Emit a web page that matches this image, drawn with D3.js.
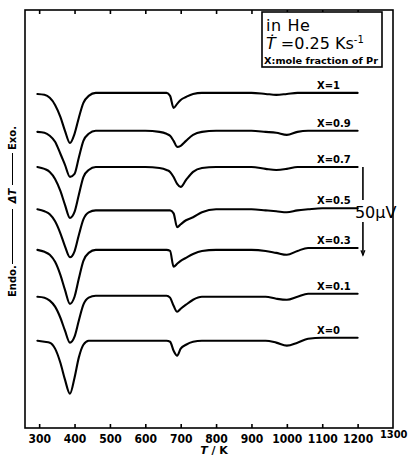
<!DOCTYPE html>
<html>
<head>
<meta charset="utf-8">
<script src="https://cdn.jsdelivr.net/npm/d3@7"></script>
<style>
  html, body { margin: 0; padding: 0; background: #fff; }
  svg { display: block; }
</style>
</head>
<body>
<svg id="chart" width="408" height="460"></svg>
<script>
// ---------------- DATA ----------------
const temps = [295,315,330,345,360,373,387,400,412,425,440,460,500,600,640,660,670,680,690,700,715,735,760,800,900,940,970,1000,1030,1060,1100,1150,1200];

const seriesNames = ["X=1","X=0.9","X=0.7","X=0.5","X=0.3","X=0.1","X=0"];
// vertical offset of each trace (µV)
const baselines = [190, 168.5, 148, 124, 101, 75, 49.5];

// deviation ΔT (µV) of each trace from its own baseline, negative = endothermic
const dT_x1  = [-0.6,-1.1,-2.8,-6.8,-13.6,-21.5,-28.4,-23.2,-14.2,-5.7,-1.7,0,0,0,0,0,-1.7,-8.5,-6.2,-4.0,-2.3,-0.6,0,0,0,-0.6,-1.1,-0.6,0,0,0,0,0];
const dT_x09 = [-0.6,-1.1,-2.8,-6.2,-13.0,-19.3,-26.1,-24.4,-15.3,-5.7,-1.7,0,0,0,-0.6,-1.7,-2.8,-5.7,-9.1,-8.5,-5.7,-2.3,-0.6,0,0,-0.6,-1.1,-2.3,-0.6,0,0,0,0];
const dT_x07 = [0,-1.1,-2.8,-6.8,-13.6,-21.5,-28.9,-25.5,-15.9,-5.7,-1.7,0,0,0,-0.6,-1.7,-2.8,-5.7,-9.6,-11.3,-7.4,-2.8,-0.6,0,0,-1.1,-1.7,-1.1,0,0,0,0,0];
const dT_x05 = [0,-1.1,-2.8,-6.8,-13.6,-21.0,-27.2,-23.8,-14.7,-5.7,-1.7,-0.6,-0.6,-0.6,-0.6,-0.6,-0.6,-2.3,-10.2,-8.5,-6.2,-4.5,-1.7,0,0,-0.6,-1.1,-1.7,-0.6,0,0.6,0.6,0.6];
const dT_x03 = [0,-1.1,-2.8,-6.8,-14.2,-22.7,-30.6,-26.6,-16.4,-6.2,-1.7,0,0,0,0,0,-0.6,-9.6,-7.9,-6.2,-4.5,-2.3,-0.6,0,0,-0.6,-1.7,-2.8,-0.6,1.1,1.1,1.1,1.1];
const dT_x01 = [-0.6,-1.1,-2.8,-6.2,-12.5,-19.8,-26.6,-23.2,-14.2,-5.1,-1.1,0,0,0,0,0,-1.1,-5.7,-9.1,-7.4,-5.1,-2.3,-0.6,-0.6,-0.6,-0.6,-1.7,-2.3,-0.6,1.1,1.1,1.1,1.1];
const dT_x0  = [0,-0.6,-1.1,-4.5,-12.5,-22.1,-30.1,-21.0,-9.6,-2.3,0,0,0,0,0,0,-0.6,-5.7,-8.5,-4.5,-2.3,-0.6,0,0,0,0,-1.1,-2.8,-1.1,1.1,1.7,1.7,1.7];
const seriesValues = [dT_x1, dT_x09, dT_x07, dT_x05, dT_x03, dT_x01, dT_x0];

const xTicks = [300,400,500,600,700,800,900,1000,1100,1200,1300];
const xDomain = [260, 1300];
const yDomain = [0, 237];       // µV
const scaleBarValue = 50;       // µV
const scaleBarTop = 148;        // µV
const scaleBarT = 1215;         // K
const labelT = 1085;            // K

// ---------------- DRAW ----------------
const svg = d3.select("#chart");
const mL = 25, mR = 393, mT = 10, mB = 428;

const x = d3.scaleLinear().domain(xDomain).range([mL, mR]);
const y = d3.scaleLinear().domain(yDomain).range([mB, mT]);

const narrow = "'Liberation Sans Narrow','DejaVu Sans Condensed',sans-serif";
const sans = "'DejaVu Sans',sans-serif";

// frame
svg.append("rect")
  .attr("x", mL).attr("y", mT)
  .attr("width", mR - mL).attr("height", mB - mT)
  .attr("fill", "none").attr("stroke", "#000").attr("stroke-width", 1.6);

// bottom axis (ticks inward)
const gB = svg.append("g").attr("transform", `translate(0,${mB})`)
  .call(d3.axisBottom(x).tickValues(xTicks).tickSizeInner(-4).tickSizeOuter(0).tickPadding(6).tickFormat(d3.format("d")));
gB.select(".domain").remove();
gB.selectAll("line").attr("stroke", "#000").attr("stroke-width", 1.6);
gB.selectAll("text")
  .attr("font-family", narrow).attr("font-weight", "bold").attr("font-size", 12).attr("fill", "#000");
gB.selectAll(".tick").filter(d => d === 1300).select("line").remove();
gB.selectAll(".tick").filter(d => d === 1300).select("text")
  .attr("text-anchor", "end").attr("x", 14).attr("y", 2).attr("font-size", 11);

// top axis (ticks inward, no labels)
const gT = svg.append("g").attr("transform", `translate(0,${mT})`)
  .call(d3.axisTop(x).tickValues(xTicks.filter(t => t < 1300)).tickSizeInner(-4).tickSizeOuter(0).tickFormat(""));
gT.select(".domain").remove();
gT.selectAll("line").attr("stroke", "#000").attr("stroke-width", 1.6);

// x-axis title
const xt = svg.append("text").attr("x", 214).attr("y", 454).attr("text-anchor", "middle")
  .attr("font-family", sans).attr("font-weight", "bold").attr("font-size", 11);
xt.append("tspan").attr("font-style", "italic").text("T");
xt.append("tspan").text(" / K");

// y-axis title: Endo. —— ΔT —— Exo.
const gy = svg.append("g").attr("transform", "translate(16,0) rotate(-90)");
gy.append("text").attr("x", -297).attr("y", 0).attr("font-family", sans).attr("font-weight", "bold")
  .attr("font-size", 10).text("Endo.");
gy.append("line").attr("x1", -264).attr("x2", -209).attr("y1", -3.5).attr("y2", -3.5).attr("stroke", "#000").attr("stroke-width", 1);
gy.append("text").attr("x", -196).attr("y", 0).attr("text-anchor", "middle").attr("font-family", sans)
  .attr("font-weight", "bold").attr("font-style", "italic").attr("font-size", 10).text("ΔT");
gy.append("line").attr("x1", -185).attr("x2", -153).attr("y1", -3.5).attr("y2", -3.5).attr("stroke", "#000").attr("stroke-width", 1);
gy.append("text").attr("x", -150).attr("y", 0).attr("font-family", sans).attr("font-weight", "bold")
  .attr("font-size", 10).text("Exo.");

// curves
const line = d3.line().x(d => x(d.t)).y(d => y(d.v)).curve(d3.curveMonotoneX);
seriesNames.forEach((name, i) => {
  const pts = temps.map((t, j) => ({ t, v: baselines[i] + seriesValues[i][j] }));
  svg.append("path").datum(pts).attr("d", line)
    .attr("fill", "none").attr("stroke", "#000").attr("stroke-width", 2.1)
    .attr("stroke-linejoin", "round").attr("stroke-linecap", "round");
  const last = pts[pts.length - 1];
  svg.append("text").attr("x", x(labelT)).attr("y", y(last.v) - 4)
    .attr("font-family", sans).attr("font-weight", "bold").attr("font-size", 10)
    .text(name);
});

// 50 µV scale bar
const sbx = x(scaleBarT);
const sbTop = y(scaleBarTop), sbBot = y(scaleBarTop - scaleBarValue);
svg.append("line").attr("x1", sbx).attr("x2", sbx).attr("y1", sbTop).attr("y2", sbTop + 33)
  .attr("stroke", "#000").attr("stroke-width", 1.6);
svg.append("line").attr("x1", sbx).attr("x2", sbx).attr("y1", sbTop + 55).attr("y2", sbBot)
  .attr("stroke", "#000").attr("stroke-width", 1.6);
svg.append("path").attr("d", `M${sbx - 2},${sbBot - 5} L${sbx},${sbBot} L${sbx + 2},${sbBot - 5}`)
  .attr("fill", "none").attr("stroke", "#000").attr("stroke-width", 1.2);
svg.append("text").attr("x", sbx - 8).attr("y", sbTop + 51)
  .attr("font-family", sans).attr("font-size", 16).text("50µV");

// info box
svg.append("rect").attr("x", 262).attr("y", 12).attr("width", 120).attr("height", 55)
  .attr("fill", "#fff").attr("stroke", "#000").attr("stroke-width", 1.6);
svg.append("text").attr("x", 266).attr("y", 31).attr("font-family", sans).attr("font-size", 16)
  .attr("letter-spacing", 0.6).text("in He");
const t2 = svg.append("text").attr("x", 266).attr("y", 49).attr("font-family", sans).attr("font-size", 16);
t2.append("tspan").attr("font-style", "italic").text("Ṫ");
t2.append("tspan").text(" =0.25 Ks");
t2.append("tspan").attr("font-size", 10).attr("dy", -6).text("-1");
svg.append("text").attr("x", 264).attr("y", 64).attr("font-family", sans).attr("font-weight", "bold")
  .attr("font-size", 9).attr("textLength", 114).attr("lengthAdjust", "spacingAndGlyphs")
  .text("X:mole fraction of Pr");
</script>
</body>
</html>
